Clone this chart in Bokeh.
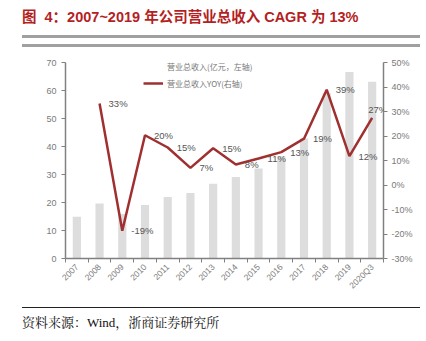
import math
from bokeh.plotting import figure
from bokeh.layouts import column
from bokeh.models import (Range1d, LinearAxis, FixedTicker, LabelSet, Div,
                          Legend, LegendItem, ColumnDataSource)
from bokeh.core.properties import value
from bokeh.embed import file_html
from bokeh.resources import INLINE

categories = ["2007", "2008", "2009", "2010", "2011", "2012", "2013", "2014",
              "2015", "2016", "2017", "2018", "2019", "2020Q3"]
revenue = [14.9, 19.6, 15.9, 19.1, 22.0, 23.4, 26.7, 29.1, 32.1, 36.5, 42.9, 59.0, 66.6, 63.1]
yoy_categories = categories[1:]
yoy = [33.3, -18.7, 20.3, 15.3, 7.0, 15.0, 8.4, 10.8, 13.4, 18.9, 38.9, 11.8, 27.4]
left_ticks = [0, 10, 20, 30, 40, 50, 60, 70]
right_ticks = [-30, -20, -10, 0, 10, 20, 30, 40, 50]

title_text = "图&nbsp;&nbsp;4：2007~2019 年公司营业总收入 CAGR 为 13%"
source_text = "资料来源：Wind，浙商证券研究所"
legend_labels = ["营业总收入(亿元，左轴)", "营业总收入YOY(右轴)"]

W = 426
FIG_H = 265

title_div = Div(width=398, height=34, margin=(0, 6, 0, 22), text=(
    "<div style=\"padding-top:8px;line-height:18px;"
    "font-family:'Liberation Sans','Noto Sans CJK SC',sans-serif;"
    "font-weight:bold;font-size:14.5px;color:#b41f24;white-space:nowrap;\">" + title_text + "</div>"))
title_rule = Div(width=398, height=3, margin=(1, 6, 2, 22),
                 text="<div style=\"width:398px;height:3px;background-color:#a0a0a0;\"></div>",
                 styles={"background-color": "#a0a0a0"})

p = figure(width=W, height=FIG_H, output_backend="svg", toolbar_location=None,
           x_range=Range1d(-0.5, len(categories) - 0.5), y_range=Range1d(0, 70),
           min_border_left=65, min_border_right=43, min_border_top=22, min_border_bottom=47,
           x_axis_type=None, y_axis_type=None, margin=0)
p.outline_line_color = None
p.border_fill_alpha = 0
p.background_fill_alpha = 0
p.xgrid.visible = False
p.ygrid.visible = False
p.extra_y_ranges = {"yoy": Range1d(-30, 50)}

idx = list(range(len(categories)))
bar_src = ColumnDataSource(dict(x=idx, top=revenue))
bars = p.vbar(x="x", top="top", width=0.36, source=bar_src, color="#dddddd", line_color=None)
swatch = p.line(x=[], y=[], line_color="#dddddd", line_width=5)

yidx = [categories.index(c) for c in yoy_categories]
n = len(yoy)
xoff = [9] * (n - 1) + [-4]
yoff = [0] * (n - 1) + [8]
line_src = ColumnDataSource(dict(x=yidx, y=yoy, lab=[f"{v:.0f}%" for v in yoy], xo=xoff, yo=yoff))
line = p.line(x="x", y="y", source=line_src, y_range_name="yoy", line_color="#a03030", line_width=2.5)
p.add_layout(LabelSet(x="x", y="y", text="lab", source=line_src, y_range_name="yoy",
                      x_offset="xo", y_offset="yo",
                      text_baseline="middle", text_align="left", text_font_size="9.5px",
                      text_color="#555555", text_font=value("Liberation Sans")))

axis_color = "#808080"
label_color = "#7a7a7a"

xa = LinearAxis(ticker=FixedTicker(ticks=idx, minor_ticks=[i - 0.5 for i in range(len(categories) + 1)]),
                major_label_overrides={i: c for i, c in enumerate(categories)})
xa.major_tick_out = 0
xa.major_tick_in = 0
xa.minor_tick_out = 4
xa.minor_tick_in = 0
xa.major_label_orientation = math.pi / 4
xa.major_label_text_font_size = "8.5px"
xa.major_label_text_color = label_color
xa.major_label_text_font = "Liberation Sans"
xa.major_label_standoff = 3
xa.axis_line_color = axis_color
xa.axis_line_width = 1.5
xa.minor_tick_line_color = axis_color
p.add_layout(xa, "below")

ya = LinearAxis(ticker=FixedTicker(ticks=left_ticks, minor_ticks=[]))
ya.major_tick_out = 4
ya.major_tick_in = 0
ya.major_label_text_font_size = "9px"
ya.major_label_text_color = label_color
ya.major_label_text_font = "Liberation Sans"
ya.major_label_standoff = 5
ya.axis_line_color = axis_color
ya.axis_line_width = 1.5
ya.major_tick_line_color = axis_color
p.add_layout(ya, "left")

ra = LinearAxis(y_range_name="yoy", ticker=FixedTicker(ticks=right_ticks, minor_ticks=[]),
                major_label_overrides={v: f"{v}%" for v in right_ticks})
ra.major_tick_out = 4
ra.major_tick_in = 0
ra.major_label_text_font_size = "9px"
ra.major_label_text_color = label_color
ra.major_label_text_font = "Liberation Sans"
ra.major_label_standoff = 4
ra.axis_line_color = axis_color
ra.axis_line_width = 1.5
ra.major_tick_line_color = axis_color
p.add_layout(ra, "right")

legend = Legend(items=[LegendItem(label=legend_labels[0], renderers=[swatch]),
                       LegendItem(label=legend_labels[1], renderers=[line])],
                location=(78, 169), padding=0, margin=0, spacing=5,
                glyph_width=20, glyph_height=12, label_height=12, label_standoff=4,
                label_text_font_size="8px", label_text_color="#777777",
                label_text_font="Noto Sans CJK SC",
                background_fill_alpha=0, border_line_color=None)
p.add_layout(legend, "center")

foot_div = Div(width=398, height=34, margin=(2, 6, 0, 22), text=(
    "<div style=\"padding-top:6px;line-height:18px;"
    "font-family:'Liberation Serif','Noto Serif CJK SC','Noto Sans CJK SC',serif;"
    "font-size:13px;color:#111111;white-space:nowrap;\">" + source_text + "</div>"),
    styles={"border-top": "1px solid #222222", "box-sizing": "border-box"})

layout = column(title_div, title_rule, p, foot_div, spacing=0, margin=0)
open("out.html", "w").write(file_html(layout, INLINE))
